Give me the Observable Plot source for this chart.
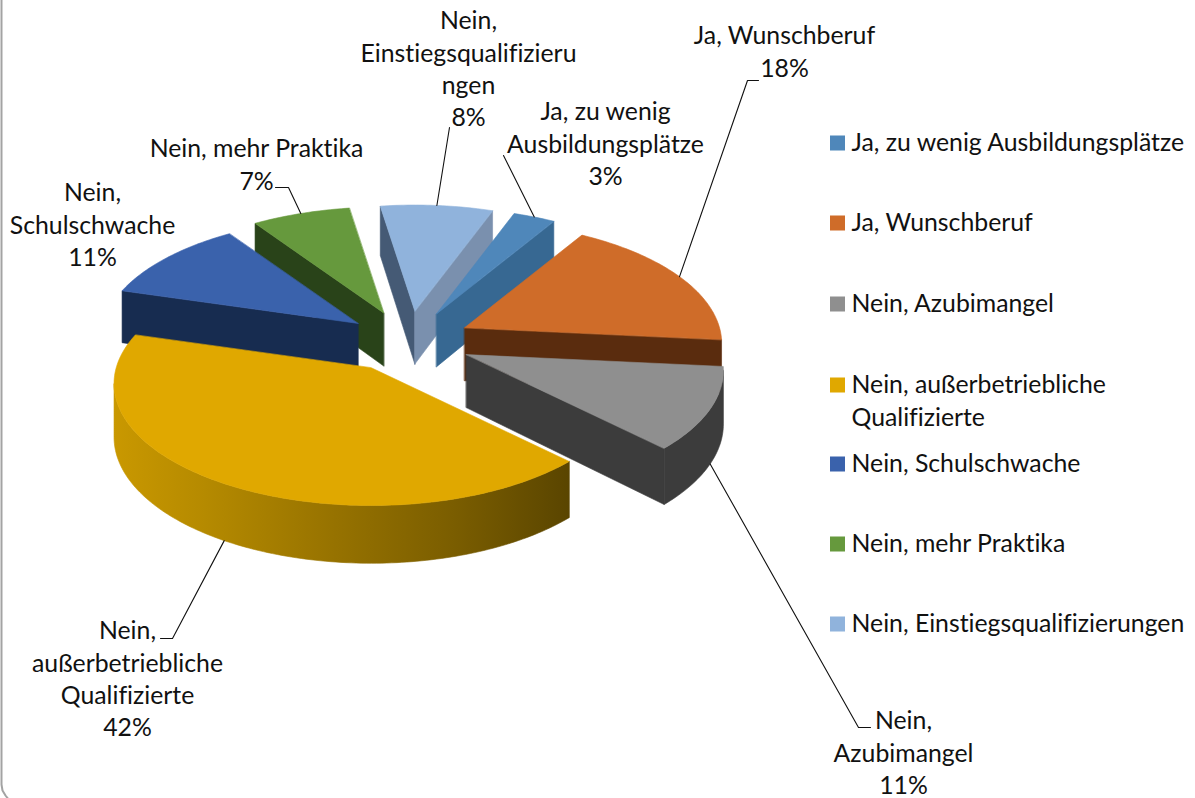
<!DOCTYPE html>
<html lang="de">
<head>
<meta charset="utf-8">
<style>html,body{margin:0;padding:0;background:#fff;overflow:hidden}svg{display:block}svg text{font-variant-ligatures:none}</style>
<script src="https://cdn.jsdelivr.net/npm/d3@7"></script>
<script src="https://cdn.jsdelivr.net/npm/@observablehq/plot@0.6"></script>
</head>
<body>
<script>
// --- data ---
const categories = ["Ja, zu wenig Ausbildungsplätze","Ja, Wunschberuf","Nein, Azubimangel","Nein, außerbetriebliche Qualifizierte","Nein, Schulschwache","Nein, mehr Praktika","Nein, Einstiegsqualifizierungen"];
const shares = [3,18,11,42,11,7,8];
const labelLines = [["Ja, zu wenig","Ausbildungsplätze"],["Ja, Wunschberuf"],["Nein,","Azubimangel"],["Nein,","außerbetriebliche","Qualifizierte"],["Nein,","Schulschwache"],["Nein, mehr Praktika"],["Nein,","Einstiegsqualifizieru","ngen"]];
const legendLines = [["Ja, zu wenig Ausbildungsplätze"],["Ja, Wunschberuf"],["Nein, Azubimangel"],["Nein, außerbetriebliche","Qualifizierte"],["Nein, Schulschwache"],["Nein, mehr Praktika"],["Nein, Einstiegsqualifizierungen"]];
// --- colours ---
const topColors = ["#4f87ba","#cf6c29","#8f8f8f","#e0a800","#3a62ac","#66993d","#90b3dc"];
const startFaceColors = ["#376892","#5a2c0e","#3c3c3c","#5c4600","#172c50","#294319","#455a75"];
const endFaceColors = ["#376892","#5a2c0e","#3c3c3c","#5c4600","#172c50","#294319","#7a90ae"];
const rimColors = ["#376892","#5a2c0e","#3c3c3c","url(#yellowRim)","#172c50","#294319","#455a75"];
// --- layout ---
const firstAngle = 20, pieCx = 408, pieCy = 341, radius = 255, squash = 0.47, persp = 0.13, explode = 65, depth = 53;
const explodeNudgeX = [0,-2,-1,-4,2,-1,0];
const drawOrder = [6,0,5,4,1,2,3];
const labelCenterX = [605,784,903,127,92,256,468];
const labelFirstY = [112,36,721,631,193,149,21];
const labelLineStep = 32.3;
const leaderBends = [[[503,155]],[[747,80],[758,80]],[[858,727],[870,727]],[[172,638],[160,638]],[],[[288,187],[275,187]],[[449,127]]];
const legendY = [143,223,304,385,464,544,624];
const borderPath = [{x:1,y:-4},{x:1,y:784},{x:2,y:790},{x:5,y:795},{x:9,y:800}];

// --- geometry derived from the shares ---
const rad = d => d * Math.PI / 180;
const total = d3.sum(shares);
const cum = [0, ...d3.cumsum(shares)];
const spans = shares.map((_, i) => [firstAngle + cum[i] * 3.6, firstAngle + cum[i + 1] * 3.6]);
const unit = a => ({u: Math.sin(rad(a)), v: -Math.cos(rad(a))});
const apexOf = i => {
  const {u, v} = unit((spans[i][0] + spans[i][1]) / 2);
  return {x: pieCx + explode * u + explodeNudgeX[i], y: pieCy + explode * squash * v, s: 1};
};
const rimOf = (i, a) => {
  const A = apexOf(i), {u, v} = unit(a), s = 1 / (1 - persp * v);
  return {x: A.x + radius * u * s, y: A.y + radius * squash * v * s, s};
};
const drop = p => ({x: p.x, y: p.y + depth * (1 + 0.6 * (p.s - 1)), s: p.s});
const rimPoints = i => {
  const [a0, a1] = spans[i];
  const n = Math.ceil(a1 - a0);
  return d3.range(n + 1).map(k => rimOf(i, a0 + (a1 - a0) * k / n));
};

function sliceMarks(i) {
  const A = apexOf(i), rim = rimPoints(i), S = rim[0], E = rim[rim.length - 1];
  const face = (pts, fill) => Plot.line(pts, {x: "x", y: "y", fill, stroke: fill, strokeWidth: 0.6, curve: "linear-closed"});
  const marks = [];
  if (S.x < A.x) marks.push(face([A, S, drop(S), drop(A)], startFaceColors[i]));
  if (A.x < E.x) marks.push(face([A, E, drop(E), drop(A)], endFaceColors[i]));
  const run = rim.filter((p, k) => (k < rim.length - 1 && rim[k + 1].x < p.x) || (k > 0 && p.x < rim[k - 1].x));
  if (run.length > 1) marks.push(face([...run, ...run.slice().reverse().map(drop)], rimColors[i]));
  marks.push(face([A, ...rim], topColors[i]));
  return marks;
}

// --- data labels ---
const labelRows = shares.flatMap((v, i) => {
  const lines = [...labelLines[i], `${d3.format(".0f")(v / total * 100)}%`];
  return lines.map((t, k) => ({t, x: labelCenterX[i], y: labelFirstY[i] + k * labelLineStep}));
});
const leaders = shares.map((_, i) => {
  if (!leaderBends[i].length) return [];
  const p = rimOf(i, (spans[i][0] + spans[i][1]) / 2);
  const start = unit((spans[i][0] + spans[i][1]) / 2).v > 0 ? drop(p) : p;
  return [start, ...leaderBends[i].map(([x, y]) => ({x, y}))];
}).filter(d => d.length);

// --- legend ---
const legendRows = legendLines.flatMap((lines, i) => lines.map((t, k) => ({t, y: legendY[i] + k * labelLineStep})));
const swatches = categories.map((c, i) => ({c, y: legendY[i], fill: topColors[i]}));

const defs = () => {
  const d = d3.create("svg:defs");
  const g = d.append("linearGradient").attr("id", "yellowRim").attr("x1", 0).attr("x2", 1).attr("y1", 0).attr("y2", 0);
  [[0,"#c99800"],[0.2,"#b58a00"],[0.45,"#9a7500"],[0.75,"#7a5d00"],[1,"#5a4500"]].forEach(([o, c]) => g.append("stop").attr("offset", o).attr("stop-color", c));
  return d.node();
};

const chart = Plot.plot({
  width: 1195, height: 798, margin: 0,
  style: {background: "#fff", fontFamily: "Lato, 'Open Sans', sans-serif"},
  x: {domain: [0, 1195], range: [0, 1195], axis: null},
  y: {domain: [0, 798], range: [0, 798], axis: null},
  marks: [
    defs,
    Plot.line(borderPath, {x: "x", y: "y", stroke: "#a3a3a3", strokeWidth: 2, clip: false}),
    ...drawOrder.flatMap(sliceMarks),
    ...leaders.map(pts => Plot.line(pts, {x: "x", y: "y", stroke: "#111", strokeWidth: 1.1})),
    Plot.text(labelRows, {x: "x", y: "y", text: "t", fontSize: 24.8, fill: "#111", textAnchor: "middle", lineAnchor: "middle"}),
    Plot.rect(swatches, {x1: () => 830, x2: () => 845, y1: d => d.y - 7.5, y2: d => d.y + 7.5, fill: "fill"}),
    Plot.text(legendRows, {x: () => 851, y: "y", text: "t", fontSize: 24.8, fill: "#111", textAnchor: "start", lineAnchor: "middle"})
  ],
  color: {type: "identity"}
});
document.body.appendChild(chart);
</script>
</body>
</html>
